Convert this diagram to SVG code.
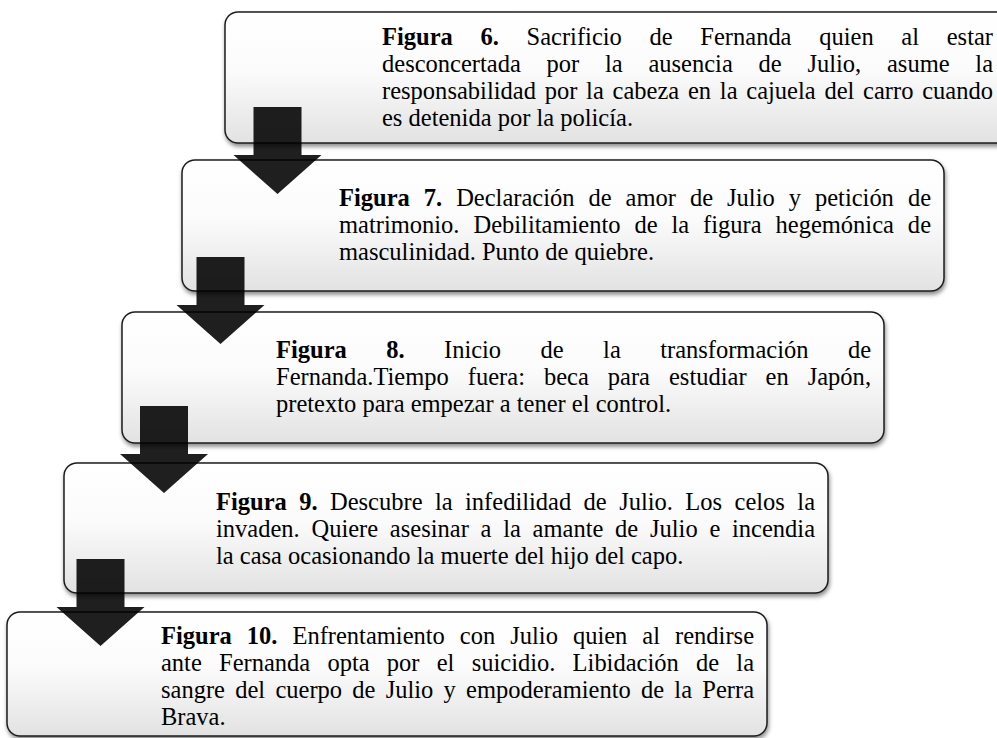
<svg xmlns="http://www.w3.org/2000/svg" xmlns:xlink="http://www.w3.org/1999/xlink" width="997" height="738" viewBox="0 0 997 738">
<style>
.box{fill:url(#g);stroke:#1e1e1e;stroke-width:1.5;filter:url(#sh)}
.t{font-family:"Liberation Serif","Times New Roman",serif;font-size:24.5px;fill:#000}
.b{font-weight:bold}
.arr{fill:#000;fill-opacity:0.88}
</style>
<defs>
<linearGradient id="g" x1="0" y1="0" x2="0" y2="1">
<stop offset="0" stop-color="#ffffff"/>
<stop offset="0.45" stop-color="#fbfbfb"/>
<stop offset="1" stop-color="#e2e2e2"/>
</linearGradient>
<filter id="sh" x="-5%" y="-10%" width="110%" height="125%">
<feDropShadow dx="1" dy="3" stdDeviation="2" flood-color="#000" flood-opacity="0.45"/>
</filter>
<path id="arrow" d="M-24,0 H24 V48 H44 L0,87 L-44,48 H-24 Z"/>
</defs>
<rect width="997" height="738" fill="#fff"/>

<g id="node-fig6">
<rect class="box" x="225" y="12" width="795" height="131" rx="13"/>
<text class="t" x="382" y="45" word-spacing="21.6" textLength="611" lengthAdjust="spacing"><tspan class="b">Figura 6.</tspan> Sacrificio de Fernanda quien al estar</text>
<text class="t" x="382" y="72" word-spacing="19.6" textLength="611" lengthAdjust="spacing">desconcertada por la ausencia de Julio, asume la</text>
<text class="t" x="382" y="99" word-spacing="2.6" textLength="611" lengthAdjust="spacing">responsabilidad por la cabeza en la cajuela del carro cuando</text>
<text class="t" x="382" y="126">es detenida por la policía.</text>
</g>

<g id="node-fig7">
<rect class="box" x="182" y="160" width="762" height="131" rx="13"/>
<text class="t" x="339" y="206" word-spacing="7.9" textLength="592" lengthAdjust="spacing"><tspan class="b">Figura 7.</tspan> Declaración de amor de Julio y petición de</text>
<text class="t" x="339" y="233" word-spacing="7.8" textLength="592" lengthAdjust="spacing">matrimonio. Debilitamiento de la figura hegemónica de</text>
<text class="t" x="339" y="260">masculinidad. Punto de quiebre.</text>
</g>

<g id="node-fig8">
<rect class="box" x="122" y="312" width="762" height="131" rx="13"/>
<text class="t" x="276" y="358" word-spacing="33.3" textLength="595" lengthAdjust="spacing"><tspan class="b">Figura 8.</tspan> Inicio de la transformación de</text>
<text class="t" x="276" y="385" word-spacing="12.8" textLength="595" lengthAdjust="spacing">Fernanda.Tiempo fuera: beca para estudiar en Japón,</text>
<text class="t" x="276" y="412">pretexto para empezar a tener el control.</text>
</g>

<g id="node-fig9">
<rect class="box" x="64" y="463" width="764" height="130" rx="13"/>
<text class="t" x="216" y="510" word-spacing="6.3" textLength="599" lengthAdjust="spacing"><tspan class="b">Figura 9.</tspan> Descubre la infedilidad de Julio. Los celos la</text>
<text class="t" x="216" y="537" word-spacing="5.6" textLength="599" lengthAdjust="spacing">invaden. Quiere asesinar a la amante de Julio e incendia</text>
<text class="t" x="216" y="564">la casa ocasionando la muerte del hijo del capo.</text>
</g>

<g id="node-fig10">
<rect class="box" x="7" y="612" width="760" height="124" rx="13"/>
<text class="t" x="161" y="644" word-spacing="8.9" textLength="593" lengthAdjust="spacing"><tspan class="b">Figura 10.</tspan> Enfrentamiento con Julio quien al rendirse</text>
<text class="t" x="161" y="671" word-spacing="11.1" textLength="593" lengthAdjust="spacing">ante Fernanda opta por el suicidio. Libidación de la</text>
<text class="t" x="161" y="698" word-spacing="4.1" textLength="593" lengthAdjust="spacing">sangre del cuerpo de Julio y empoderamiento de la Perra</text>
<text class="t" x="161" y="725">Brava.</text>
</g>

<g id="connectors">
<use class="arr" xlink:href="#arrow" href="#arrow" transform="translate(277.5,107)"/>
<use class="arr" xlink:href="#arrow" href="#arrow" transform="translate(220.5,257)"/>
<use class="arr" xlink:href="#arrow" href="#arrow" transform="translate(164,406)"/>
<use class="arr" xlink:href="#arrow" href="#arrow" transform="translate(100.5,559)"/>
</g>
</svg>
